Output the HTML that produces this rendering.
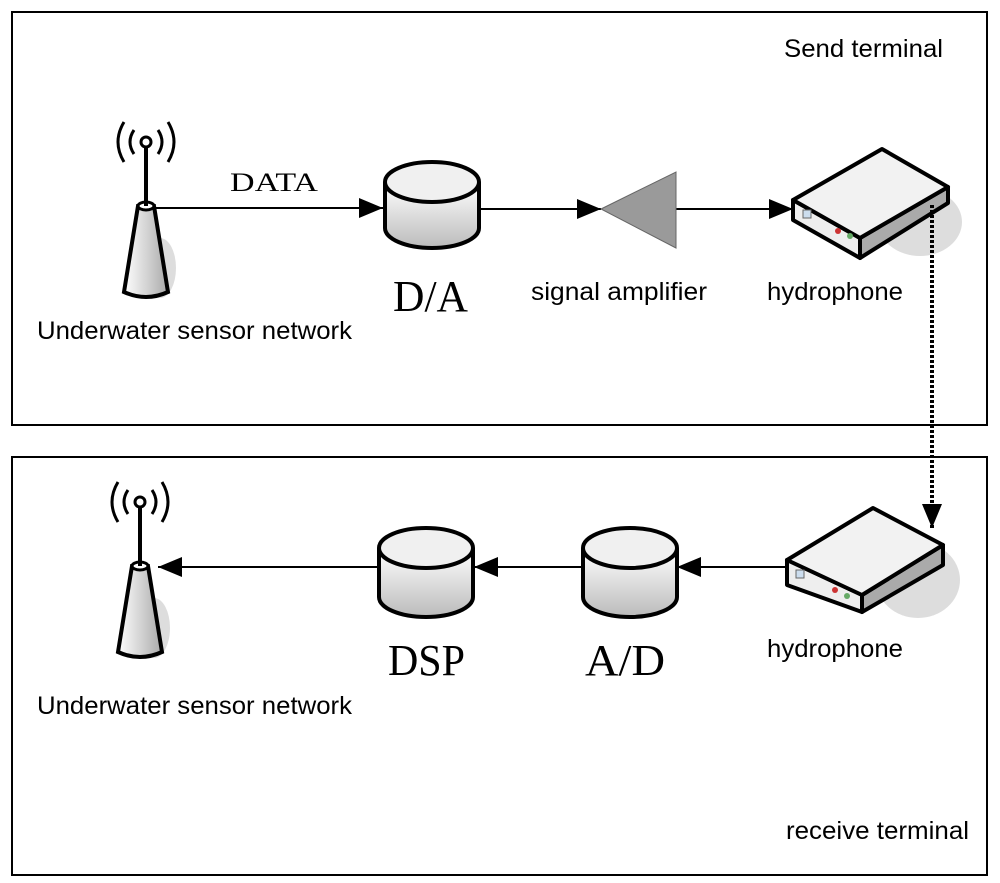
<!DOCTYPE html>
<html><head><style>body{margin:0;background:#fff}svg{display:block}</style></head><body>
<svg width="1000" height="883" viewBox="0 0 1000 883" xmlns="http://www.w3.org/2000/svg">
<defs>
<linearGradient id="cyl" x1="0" y1="0" x2="0" y2="1"><stop offset="0" stop-color="#fff"/><stop offset="1" stop-color="#bbb"/></linearGradient>
<linearGradient id="tw" x1="0" y1="0" x2="1" y2="0"><stop offset="0" stop-color="#fff"/><stop offset="1" stop-color="#aaa"/></linearGradient>
<marker id="arb" markerWidth="24" markerHeight="20" refX="24" refY="10" orient="auto" markerUnits="userSpaceOnUse"><path d="M0,0 L24,10 L0,20z" fill="#000"/></marker>
<g id="ant">
<ellipse cx="14" cy="62" rx="16" ry="30" fill="#ddd"/>
<path d="M-8,0 L8,0 L22,86 Q0,96 -22,86 Z" fill="url(#tw)" stroke="#000" stroke-width="4"/>
<ellipse cx="0" cy="0" rx="8" ry="4" fill="#fff" stroke="#000" stroke-width="3"/>
<line x1="0" y1="-60" x2="0" y2="0" stroke="#000" stroke-width="4"/>
<circle cx="0" cy="-64" r="5" fill="#fff" stroke="#000" stroke-width="3"/>
<path d="M-12,-76 Q-20,-64 -12,-52 M12,-76 Q20,-64 12,-52 M-22,-84 Q-34,-64 -22,-44 M22,-84 Q34,-64 22,-44" fill="none" stroke="#000" stroke-width="3"/>
</g>
</defs>
<rect x="12" y="12" width="975" height="413" fill="none" stroke="#000" stroke-width="2"/>
<rect x="12" y="457" width="975" height="418" fill="none" stroke="#000" stroke-width="2"/>
<g font-family="Liberation Sans, sans-serif" font-size="25" fill="#000" lengthAdjust="spacingAndGlyphs">
<text x="784" y="57" textLength="159" lengthAdjust="spacingAndGlyphs">Send terminal</text>
<text x="786" y="839" textLength="183" lengthAdjust="spacingAndGlyphs">receive terminal</text>
<text x="37" y="339" textLength="315" lengthAdjust="spacingAndGlyphs">Underwater sensor network</text>
<text x="37" y="714" textLength="315" lengthAdjust="spacingAndGlyphs">Underwater sensor network</text>
<text x="531" y="300" textLength="176" lengthAdjust="spacingAndGlyphs">signal amplifier</text>
<text x="767" y="300" textLength="136" lengthAdjust="spacingAndGlyphs">hydrophone</text>
<text x="767" y="657" textLength="136" lengthAdjust="spacingAndGlyphs">hydrophone</text>
</g>
<g font-family="Liberation Serif, serif" fill="#000">
<text x="230" y="191" font-size="26" textLength="88" lengthAdjust="spacingAndGlyphs">DATA</text>
<text x="393" y="311" font-size="44" textLength="75" lengthAdjust="spacingAndGlyphs">D/A</text>
<text x="388" y="675" font-size="44" textLength="77" lengthAdjust="spacingAndGlyphs">DSP</text>
<text x="585" y="675" font-size="44" textLength="80" lengthAdjust="spacingAndGlyphs">A/D</text>
</g>
<use href="#ant" x="146" y="206"/>
<use href="#ant" x="140" y="566"/>
<line x1="155" y1="208" x2="383" y2="208" stroke="#000" stroke-width="2" marker-end="url(#arb)"/>
<line x1="480" y1="209" x2="601" y2="209" stroke="#000" stroke-width="2" marker-end="url(#arb)"/>
<line x1="676" y1="209" x2="793" y2="209" stroke="#000" stroke-width="2" marker-end="url(#arb)"/>
<path d="M385,182 L385,228 A47,20 0 0 0 479,228 L479,182" fill="url(#cyl)" stroke="#000" stroke-width="4"/>
<ellipse cx="432" cy="182" rx="47" ry="20" fill="#f0f0f0" stroke="#000" stroke-width="4"/>
<path d="M601,209 L676,172 L676,248 Z" fill="#9a9a9a" stroke="#666" stroke-width="1"/>
<ellipse cx="920" cy="222" rx="42" ry="34" fill="#ddd"/>
<path d="M793,200 L860,238 L860,258 L793,220Z" fill="#eee" stroke="#000" stroke-width="4" stroke-linejoin="round"/>
<path d="M860,238 L948,187 L948,203 L860,258Z" fill="#aaa" stroke="#000" stroke-width="4" stroke-linejoin="round"/>
<path d="M793,200 L882,149 L948,187 L860,238Z" fill="#f2f2f2" stroke="#000" stroke-width="4" stroke-linejoin="round"/>
<rect x="803" y="210" width="8" height="8" fill="#cde" stroke="#666"/>
<circle cx="838" cy="231" r="3" fill="#c33"/><circle cx="850" cy="236" r="3" fill="#6a6"/>
<line x1="932" y1="205" x2="932" y2="528" stroke="#000" stroke-width="4" stroke-dasharray="3,2" marker-end="url(#arb)"/>
<ellipse cx="918" cy="580" rx="42" ry="38" fill="#ddd"/>
<path d="M787,560 L862,595 L862,612 L787,585Z" fill="#eee" stroke="#000" stroke-width="4" stroke-linejoin="round"/>
<path d="M862,595 L943,545 L943,565 L862,612Z" fill="#aaa" stroke="#000" stroke-width="4" stroke-linejoin="round"/>
<path d="M787,560 L873,508 L943,545 L862,595Z" fill="#f2f2f2" stroke="#000" stroke-width="4" stroke-linejoin="round"/>
<rect x="796" y="570" width="8" height="8" fill="#cde" stroke="#666"/>
<circle cx="835" cy="590" r="3" fill="#c33"/><circle cx="847" cy="596" r="3" fill="#6a6"/>
<line x1="787" y1="567" x2="677" y2="567" stroke="#000" stroke-width="2" marker-end="url(#arb)"/>
<line x1="583" y1="567" x2="474" y2="567" stroke="#000" stroke-width="2" marker-end="url(#arb)"/>
<line x1="379" y1="567" x2="158" y2="567" stroke="#000" stroke-width="2" marker-end="url(#arb)"/>
<path d="M379,548 L379,597 A47,20 0 0 0 473,597 L473,548" fill="url(#cyl)" stroke="#000" stroke-width="4"/>
<ellipse cx="426" cy="548" rx="47" ry="20" fill="#f0f0f0" stroke="#000" stroke-width="4"/>
<path d="M583,548 L583,597 A47,20 0 0 0 677,597 L677,548" fill="url(#cyl)" stroke="#000" stroke-width="4"/>
<ellipse cx="630" cy="548" rx="47" ry="20" fill="#f0f0f0" stroke="#000" stroke-width="4"/>
</svg>
</body></html>
